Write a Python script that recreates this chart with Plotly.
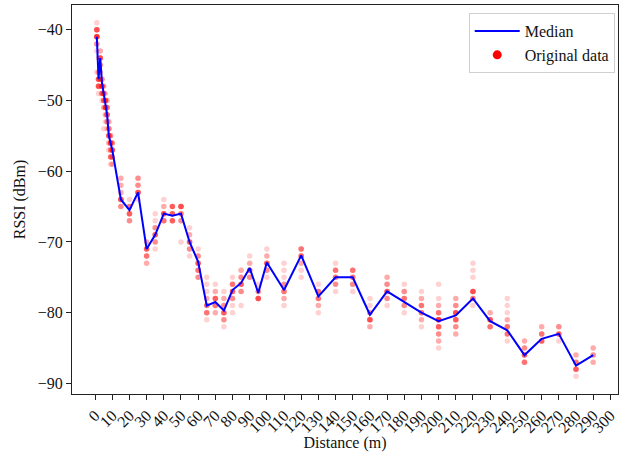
import plotly.graph_objects as go

# Distances (m) at which RSSI was sampled
distances = [1, 2, 3, 4, 5, 6, 7, 8, 9, 10,
             15, 20, 25, 30, 35, 40, 45, 50, 55, 60,
             65, 70, 75, 80, 85, 90, 95, 100,
             110, 120, 130, 140, 150, 160, 170, 180, 190, 200,
             210, 220, 230, 240, 250, 260, 270, 280, 290]

# Median RSSI (dBm) per distance
median_rssi = [-41, -47, -44, -47.5, -49, -50.5, -52, -55, -56, -57,
               -64, -65.5, -63, -71, -69, -66, -66.3, -66, -70, -72.8,
               -79, -78.5, -79.7, -76.8, -75.8, -73.7, -77.2, -72.9,
               -76.8, -71.9, -77.7, -75, -75, -80.3, -77, -78.5, -80, -81.2,
               -80.4, -78, -81.2, -82.5, -86, -83.7, -83, -87.5, -86]

# Original readings: RSSI levels observed at each distance and how many times
rssi_levels = [
    [-39, -40, -41, -42, -43, -46], [-44, -46, -47, -48, -49], [-43, -44, -45, -46, -47],
    [-47, -48, -49, -50], [-48, -49, -50, -51, -54], [-49, -50, -51, -52, -53],
    [-50, -51, -52, -53, -54], [-53, -54, -55, -56, -57], [-55, -56, -57, -58, -59],
    [-56, -57, -58, -59],
    [-61, -62, -63, -64, -65], [-64, -65, -66, -67], [-61, -62, -63, -64],
    [-70, -71, -72, -73], [-66, -67, -68, -69, -70, -71], [-64, -65, -66, -67],
    [-65, -66, -67], [-65, -66, -67, -70], [-68, -69, -70, -71, -72],
    [-71, -72, -73, -74, -75],
    [-75, -76, -77, -78, -79, -80, -81], [-76, -77, -78, -79, -80],
    [-77, -78, -79, -80, -81, -82], [-75, -76, -77, -78, -79, -80],
    [-74, -75, -76, -77, -79], [-72, -73, -74, -75], [-76, -77, -78],
    [-71, -72, -73, -74, -75],
    [-73, -74, -75, -76, -77, -78, -79], [-71, -72, -73, -74, -75],
    [-76, -77, -78, -79, -80], [-73, -74, -75, -76, -77], [-74, -75, -76, -77],
    [-78, -79, -80, -81, -82], [-75, -76, -77, -78, -79], [-76, -77, -78, -79, -80],
    [-77, -78, -79, -80, -81, -82], [-76, -78, -79, -80, -81, -82, -83, -84, -85],
    [-78, -79, -80, -81, -82, -83], [-73, -74, -75, -77, -78, -79], [-80, -81, -82],
    [-78, -79, -80, -81, -82, -83, -84], [-84, -85, -86, -87], [-82, -83, -84],
    [-82, -83, -84], [-86, -87, -88, -89], [-85, -86, -87],
]
rssi_counts = [
    [1, 6, 8, 3, 1, 1], [1, 2, 6, 6, 1], [2, 6, 3, 2, 2],
    [3, 6, 4, 1], [2, 6, 4, 2, 1], [1, 6, 6, 2, 1],
    [2, 4, 5, 3, 1], [2, 4, 6, 2, 1], [3, 6, 3, 4, 1],
    [3, 6, 3, 2],
    [2, 2, 2, 6, 3], [1, 4, 5, 3], [3, 3, 6, 1],
    [2, 5, 4, 2], [1, 1, 3, 5, 3, 1], [1, 2, 6, 4],
    [5, 5, 5], [6, 4, 3, 1], [1, 2, 5, 3, 1],
    [1, 3, 5, 4, 3],
    [1, 1, 1, 2, 4, 4, 1], [1, 2, 5, 4, 2],
    [1, 2, 3, 5, 3, 1], [1, 4, 5, 3, 1, 1],
    [2, 3, 5, 3, 1], [1, 2, 5, 3], [1, 3, 6],
    [1, 2, 5, 3, 1],
    [1, 1, 1, 3, 4, 2, 1], [4, 5, 2, 1, 1],
    [1, 4, 4, 2, 1], [1, 4, 4, 3, 1], [4, 4, 3, 1],
    [1, 1, 3, 6, 2], [2, 3, 5, 3, 1], [1, 3, 4, 3, 1],
    [1, 2, 4, 4, 2, 1], [1, 1, 2, 4, 8, 5, 3, 2, 1],
    [2, 3, 6, 5, 3, 2], [1, 1, 1, 6, 4, 1], [2, 6, 4],
    [1, 1, 1, 2, 4, 4, 1], [2, 3, 5, 4], [2, 4, 5],
    [3, 5, 1], [2, 4, 5, 1], [2, 3, 2],
]

x_tick_values = list(range(0, 301, 10))
y_tick_values = [-90, -80, -70, -60, -50, -40]

# expand readings into individual samples
obs_x, obs_y = [], []
for d, levels, counts in zip(distances, rssi_levels, rssi_counts):
    for v, c in zip(levels, counts):
        obs_x.extend([d] * c)
        obs_y.extend([v] * c)

FONT = "Liberation Serif"

fig = go.Figure()
fig.add_trace(go.Scatter(
    x=obs_x, y=obs_y, mode="markers",
    marker=dict(color="rgba(255,0,0,0.18)", size=5.5, line=dict(width=0)),
    showlegend=False, hoverinfo="skip",
))
fig.add_trace(go.Scatter(
    x=distances, y=median_rssi, mode="lines", name="Median",
    line=dict(color="#0000ff", width=2), legendrank=1,
))
fig.add_trace(go.Scatter(
    x=[None], y=[None], mode="markers", name="Original data",
    marker=dict(color="#ff0000", size=9), legendrank=2,
))

axis_common = dict(
    showgrid=False, zeroline=False, showline=True, mirror=True,
    linecolor="#222222", linewidth=1.1,
    ticks="outside", ticklen=5, tickwidth=1.1, tickcolor="#222222",
    tickfont=dict(family=FONT, size=16, color="#111111"),
)

fig.update_xaxes(
    range=[-13.45, 304.45], tickvals=x_tick_values,
    ticktext=[str(v) for v in x_tick_values], tickangle=-45,
    title=dict(text="Distance (m)", font=dict(family=FONT, size=16, color="#111111"), standoff=6),
    **axis_common,
)
fig.update_yaxes(
    range=[-91.5, -36.5], tickvals=y_tick_values,
    ticktext=["\u2212" + str(-v) for v in y_tick_values],
    title=dict(text="RSSI (dBm)", font=dict(family=FONT, size=16, color="#111111"), standoff=8),
    **axis_common,
)

fig.update_layout(
    width=631, height=452,
    margin=dict(l=72, r=13, t=5, b=58, autoexpand=False),
    plot_bgcolor="white", paper_bgcolor="white",
    font=dict(family=FONT, size=16, color="#111111"),
    legend=dict(
        x=0.994, y=0.979, xanchor="right", yanchor="top",
        bgcolor="rgba(255,255,255,0.8)", bordercolor="#d0d0d0", borderwidth=1,
        font=dict(family=FONT, size=16, color="#111111"),
        itemwidth=45, tracegroupgap=2,
    ),
)

fig.write_html("out.html")
